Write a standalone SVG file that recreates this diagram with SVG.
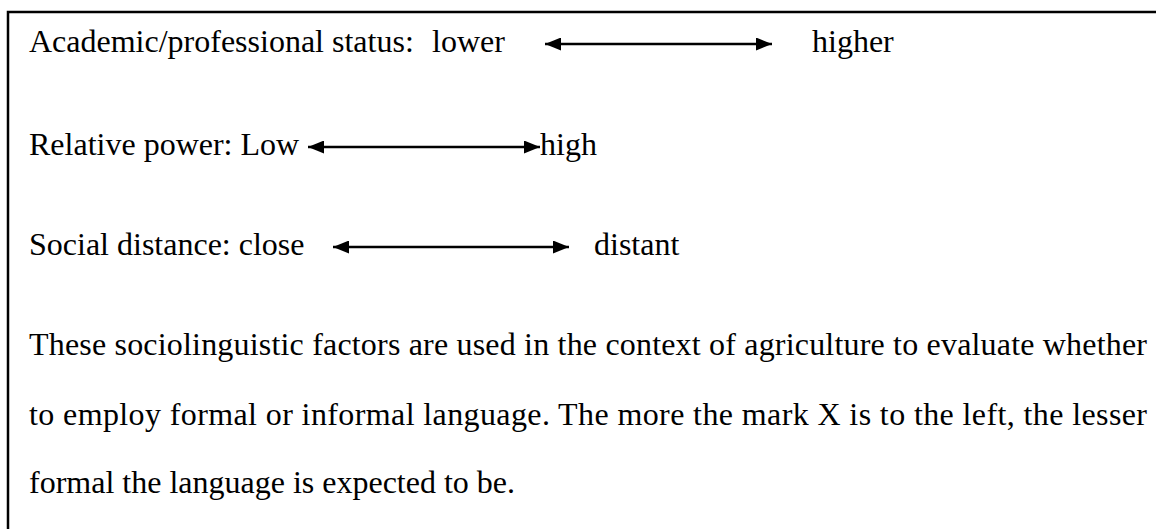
<svg xmlns="http://www.w3.org/2000/svg" width="1156" height="529" viewBox="0 0 1156 529">
  <defs>
    <marker id="ah" viewBox="0 0 16 13" refX="16" refY="6.5" markerWidth="16" markerHeight="13" markerUnits="userSpaceOnUse" orient="auto-start-reverse">
      <path d="M0,0 L16,6.5 L0,13 Z" fill="#000"/>
    </marker>
  </defs>
  <style>
    text { font-family: "Liberation Serif", "Times New Roman", serif; font-size: 32px; fill: #000; }
    .arrow { stroke: #000; stroke-width: 2.4; fill: none; marker-start: url(#ah); marker-end: url(#ah); }
    .frame { stroke: #000; stroke-width: 2.5; fill: none; }
  </style>
  <rect width="1156" height="529" fill="#fff"/>
  <g id="frame">
    <polyline class="frame" points="1156,12 8,12 8,529"/>
  </g>
  <g id="row-status">
    <text x="29" y="52">Academic/professional status:</text>
    <text x="432" y="52">lower</text>
    <text x="812" y="52">higher</text>
  </g>
  <g id="row-power">
    <text x="29" y="155">Relative power: Low</text>
    <text x="540" y="155">high</text>
  </g>
  <g id="row-distance">
    <text x="29" y="255">Social distance: close</text>
    <text x="594" y="255">distant</text>
  </g>
  <g id="connectors">
    <line class="arrow" x1="545" y1="44" x2="772" y2="44"/>
    <line class="arrow" x1="308" y1="147" x2="540" y2="147"/>
    <line class="arrow" x1="333" y1="247" x2="569" y2="247"/>
  </g>
  <g id="note">
    <text x="29" y="355" textLength="1118" lengthAdjust="spacing">These sociolinguistic factors are used in the context of agriculture to evaluate whether</text>
    <text x="29" y="425" textLength="1118" lengthAdjust="spacing">to employ formal or informal language. The more the mark X is to the left, the lesser</text>
    <text x="29" y="493">formal the language is expected to be.</text>
  </g>
</svg>
